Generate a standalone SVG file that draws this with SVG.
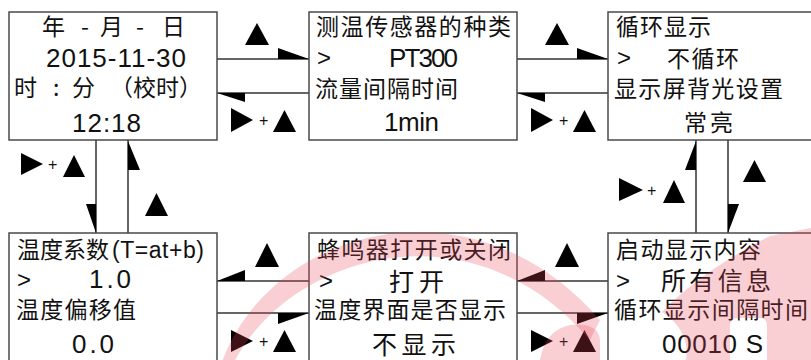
<svg xmlns="http://www.w3.org/2000/svg" width="811" height="360" viewBox="0 0 811 360">
<style>
.box{fill:#fff;stroke:#4a4a4a;stroke-width:1.5}
.ln{stroke:#333;stroke-width:1.5;fill:none}
.tri{fill:#000}
.cn{font-family:"Noto Sans CJK SC","Liberation Sans",sans-serif;font-size:23px;fill:#111}
.big{font-size:25px}
.num{font-family:"Liberation Sans","Noto Sans CJK SC",sans-serif;font-size:26px;fill:#111}
.gt{font-family:"Liberation Sans",sans-serif;font-size:24px;fill:#111}
.plus{font-family:"Liberation Sans",sans-serif;font-size:16px;fill:#111}
.wm{fill:#e8455a;opacity:0.26}
</style>
<rect width="811" height="360" fill="#fff"/>

<g id="connectors">
  <!-- top: box1 <-> box2 -->
  <line class="ln" x1="217" y1="59" x2="309" y2="59"/>
  <polygon class="tri" points="278,48 309,59 278,59"/>
  <line class="ln" x1="217" y1="93" x2="309" y2="93"/>
  <polygon class="tri" points="217,93 245,93 245,102"/>
  <polygon class="tri" points="257,23 245,45 269,45"/>
  <polygon class="tri" points="231,108 253,120 231,132"/>
  <text class="plus" x="259" y="126">+</text>
  <polygon class="tri" points="284.5,110 273,132 296,132"/>

  <!-- top: box2 <-> box3 -->
  <line class="ln" x1="517" y1="59" x2="608" y2="59"/>
  <polygon class="tri" points="577,48 608,59 577,59"/>
  <line class="ln" x1="517" y1="93" x2="608" y2="93"/>
  <polygon class="tri" points="517,93 545,93 545,102"/>
  <polygon class="tri" points="557,23 545,45 569,45"/>
  <polygon class="tri" points="531,108 553,120 531,132"/>
  <text class="plus" x="559" y="126">+</text>
  <polygon class="tri" points="584.5,110 573,132 596,132"/>

  <!-- bottom: box4 <-> box5 -->
  <line class="ln" x1="217" y1="281" x2="309" y2="281"/>
  <polygon class="tri" points="217,281 245,270 245,281"/>
  <line class="ln" x1="217" y1="313" x2="309" y2="313"/>
  <polygon class="tri" points="278,313 309,313 278,324"/>
  <polygon class="tri" points="267,243 255,267 279,267"/>
  <polygon class="tri" points="231,330 253,341 231,352"/>
  <text class="plus" x="259" y="347">+</text>
  <polygon class="tri" points="284.5,330 273,352 296,352"/>

  <!-- bottom: box5 <-> box6 -->
  <line class="ln" x1="517" y1="281" x2="608" y2="281"/>
  <polygon class="tri" points="517,281 545,270 545,281"/>
  <line class="ln" x1="517" y1="313" x2="608" y2="313"/>
  <polygon class="tri" points="577,313 608,313 577,324"/>
  <polygon class="tri" points="567,243 555,267 579,267"/>
  <polygon class="tri" points="531,330 553,341 531,352"/>
  <text class="plus" x="559" y="347">+</text>
  <polygon class="tri" points="584.5,330 573,352 596,352"/>

  <!-- left vertical: box1 <-> box4 -->
  <line class="ln" x1="96" y1="140" x2="96" y2="233"/>
  <polygon class="tri" points="86,204 96,204 96,233"/>
  <line class="ln" x1="128" y1="140" x2="128" y2="233"/>
  <polygon class="tri" points="128,141 128,170 140,170"/>
  <polygon class="tri" points="21,153 43,164 21,175"/>
  <text class="plus" x="48" y="170">+</text>
  <polygon class="tri" points="74,155 63,177 85,177"/>
  <polygon class="tri" points="156.5,193 145,216 168,216"/>

  <!-- right vertical: box3 <-> box6 -->
  <line class="ln" x1="696" y1="140" x2="696" y2="233"/>
  <polygon class="tri" points="696,141 685,170 696,170"/>
  <line class="ln" x1="728" y1="140" x2="728" y2="233"/>
  <polygon class="tri" points="728,204 739,204 728,233"/>
  <polygon class="tri" points="619,178 643,190 619,201"/>
  <text class="plus" x="647" y="196">+</text>
  <polygon class="tri" points="674,180 663,203 685,203"/>
  <polygon class="tri" points="754.5,160 743,182 766,182"/>
</g>

<g id="node-date">
  <rect class="box" x="9" y="12" width="208" height="128"/>
  <text class="cn" y="35"><tspan x="42">年</tspan><tspan x="81">-</tspan><tspan x="100">月</tspan><tspan x="136">-</tspan><tspan x="162">日</tspan></text>
  <text class="num" x="46" y="67" textLength="140">2015-11-30</text>
  <text class="cn" y="96"><tspan x="14">时</tspan><tspan x="53">:</tspan><tspan x="72">分</tspan><tspan x="110">（校时）</tspan></text>
  <text class="num" x="72" y="132" textLength="69">12:18</text>
</g>

<g id="node-sensor">
  <rect class="box" x="309" y="12" width="208" height="128"/>
  <text class="cn" x="316" y="35" textLength="195">测温传感器的种类</text>
  <text class="gt" x="317" y="66">&gt;</text>
  <text class="num" x="389" y="67" textLength="69">PT300</text>
  <text class="cn" x="315" y="97" textLength="143">流量间隔时间</text>
  <text class="num" x="384" y="131" textLength="55">1min</text>
</g>

<g id="node-cycle">
  <rect class="box" x="608" y="12" width="210" height="128"/>
  <text class="cn" x="616" y="35" textLength="95">循环显示</text>
  <text class="gt" x="617" y="66">&gt;</text>
  <text class="cn" x="667" y="67" textLength="72">不循环</text>
  <text class="cn" x="614" y="97" textLength="169">显示屏背光设置</text>
  <text class="cn" x="684" y="131" textLength="49">常亮</text>
</g>

<g id="node-temp">
  <rect class="box" x="9" y="233" width="208" height="140"/>
  <text class="cn" x="17" y="258">温度系数<tspan class="num" style="font-size:23px" x="112" textLength="92">(T=at+b)</tspan></text>
  <text class="gt" x="17" y="288">&gt;</text>
  <text class="num" x="89" y="288" textLength="42">1.0</text>
  <text class="cn" x="16" y="318" textLength="120">温度偏移值</text>
  <text class="num" x="72" y="353" textLength="42">0.0</text>
</g>

<g id="node-buzzer">
  <rect class="box" x="309" y="233" width="208" height="140"/>
  <text class="cn" x="317" y="258" textLength="194">蜂鸣器打开或关闭</text>
  <text class="gt" x="319" y="289">&gt;</text>
  <text class="cn big" x="389" y="291" textLength="55">打开</text>
  <text class="cn" x="314" y="318" textLength="192">温度界面是否显示</text>
  <text class="cn big" x="372" y="354" textLength="84">不显示</text>
</g>

<g id="node-startup">
  <rect class="box" x="608" y="233" width="210" height="140"/>
  <text class="cn" x="616" y="258" textLength="145">启动显示内容</text>
  <text class="gt" x="616" y="289">&gt;</text>
  <text class="cn big" x="661" y="290" textLength="110">所有信息</text>
  <text class="cn" x="614" y="318" textLength="194">循环显示间隔时间</text>
  <text class="num" x="662" y="353" textLength="101">00010 S</text>
</g>

<g id="watermark">
  <path class="wm" d="M222 362 C270 230 470 170 600 320 L590 340 C470 200 290 255 234 362 Z"/>
  <path class="wm" d="M540 360 Q545 330 570 325 Q598 322 600 340 L600 360 Z"/>
  <path class="wm" d="M770 236 Q700 272 662 312 Q690 330 686 360 L730 360 L730 326 Q730 318 738 318 L760 318 Q767 318 767 326 L767 360 L811 360 L811 228 Z"/>
</g>
</svg>
